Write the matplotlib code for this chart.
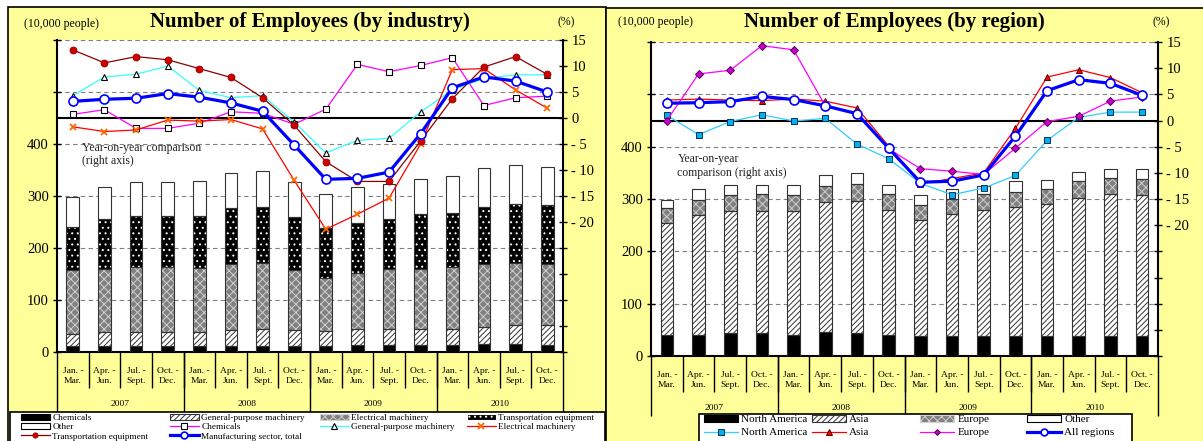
import numpy as np
import matplotlib
matplotlib.use('Agg')
import matplotlib.pyplot as plt
from matplotlib.patches import Rectangle, Patch
from matplotlib.lines import Line2D

plt.rcParams['font.family'] = ['Liberation Serif', 'DejaVu Serif']
plt.rcParams['hatch.linewidth'] = 0.7

W, H = 1203, 441


def fx(x):
    return x / W


def fy(y):
    return 1 - y / H


quarters = ['Jan. -\nMar.', 'Apr. -\nJun.', 'Jul. -\nSept.', 'Oct. -\nDec.'] * 4
years = ['2007', '2008', '2009', '2010']

# by industry, employees (10,000 people)
ind_chem = [11, 11, 11, 11, 11, 11, 11, 11, 11, 13, 13, 13, 13, 15, 15, 13]
ind_gen = [24, 28, 28, 28, 28, 31, 34, 31, 30, 31, 31, 31, 32, 33, 36, 38]
ind_elec = [122, 121, 125, 125, 123, 128, 126, 115, 102, 108, 116, 116, 119, 122, 120, 119]
ind_trans = [84, 96, 98, 98, 100, 106, 107, 102, 96, 97, 96, 105, 104, 108, 114, 113]
ind_other = [58, 62, 64, 64, 66, 69, 70, 68, 65, 69, 67, 67, 70, 75, 74, 73]

# by industry, year-on-year (%)
yoy_chem = [0.7, 1.6, -2.0, -2.0, -1.0, 1.2, 0.9, -1.2, 1.7, 10.3, 8.9, 10.1, 11.6, 2.4, 3.9, 4.2]
yoy_gen = [4.3, 7.9, 8.4, 10.0, 5.3, 3.9, 4.3, -0.8, -6.7, -4.3, -3.9, 1.2, 5.4, 7.6, 8.3, 8.3]
yoy_elec = [-1.7, -2.6, -2.3, -0.4, -0.6, -0.3, -2.1, -12.0, -21.4, -18.5, -15.4, -5.0, 9.3, 9.5, 5.4, 1.9]
yoy_trans = [13.1, 10.6, 11.8, 11.2, 9.5, 7.8, 3.9, -1.4, -8.4, -12.2, -12.2, -4.4, 3.7, 9.8, 11.8, 8.4]
yoy_mfg = [3.2, 3.6, 3.8, 4.7, 4.0, 2.9, 1.3, -5.2, -11.8, -11.6, -10.4, -3.0, 5.8, 7.9, 7.1, 5.0]

# by region, employees (10,000 people)
reg_na = [41, 41, 43, 43, 41, 45, 43, 41, 39, 39, 39, 39, 39, 39, 39, 39]
reg_asia = [214, 229, 234, 234, 236, 249, 254, 238, 220, 232, 240, 245, 251, 263, 270, 268]
reg_eu = [27, 28, 30, 32, 30, 31, 32, 30, 30, 29, 30, 29, 29, 32, 31, 31]
reg_other = [16, 21, 20, 18, 20, 21, 21, 18, 18, 19, 16, 21, 18, 17, 18, 20]

# by region, year-on-year (%)
yoy_na = [1.0, -2.7, -0.2, 1.1, -0.1, 0.4, -4.5, -7.3, -12.0, -14.2, -12.9, -10.5, -3.8, 0.6, 1.6, 1.6]
yoy_asia = [3.9, 4.1, 3.9, 3.8, 4.1, 3.7, 2.4, -4.9, -12.1, -11.1, -10.0, -1.5, 8.3, 9.7, 8.2, 5.3]
yoy_eu = [0.0, 8.9, 9.6, 14.3, 13.5, 2.8, 1.3, -5.4, -9.2, -9.7, -10.3, -5.3, -0.2, 0.8, 3.7, 4.5]
yoy_all = [3.3, 3.4, 3.6, 4.6, 4.0, 2.8, 1.3, -5.3, -11.8, -11.6, -10.4, -3.0, 5.7, 7.8, 7.1, 4.8]

YELLOW = '#FFFF99'
# (face, hatch colour, hatch)
S_BLACK = ('black', 'black', None)
S_DIAG = ('white', '#333333', '//////')
S_GREY = ('#808080', '#d0d0d0', 'xxxx')
S_CHECK = ('black', 'white', '...')
S_WHITE = ('white', 'white', None)


def stack(ax, series, styles):
    x = np.arange(len(series[0]))
    bottom = np.zeros(len(x))
    for vals, (fc, hc, hatch) in zip(series, styles):
        ax.bar(x, vals, 0.4, bottom=bottom, color=fc, edgecolor=hc, hatch=hatch,
               linewidth=0, zorder=2)
        ax.bar(x, vals, 0.4, bottom=bottom, facecolor='none', edgecolor='#333333',
               linewidth=0.8, zorder=3)
        bottom += np.array(vals)


def right_label(v):
    if v < -20:
        return ''
    if v < 0:
        return '- %d' % (-v)
    return '%d' % v


def frame(ax, axr):
    ax.set_facecolor('white')
    ax.set_xlim(-0.5, 15.5)
    ax.set_ylim(0, 600)
    axr.set_ylim(-45, 15)
    ax.set_yticks(range(0, 601, 100))
    ax.set_yticklabels(['0', '100', '200', '300', '400', '', ''])
    ax.set_xticks([])
    ax.yaxis.grid(True, color='#808080', linestyle=(0, (4, 3)), linewidth=0.8)
    ax.set_axisbelow(True)
    axr.set_yticks(range(-45, 16, 5))
    axr.set_yticklabels([right_label(v) for v in range(-45, 16, 5)])
    axr.axhline(0, color='black', linewidth=1.5, zorder=1)
    for s in ['top', 'right']:
        ax.spines[s].set_visible(False)
    for s in ['top', 'left', 'bottom']:
        axr.spines[s].set_visible(False)
    ax.spines['left'].set_linewidth(1.5)
    ax.spines['bottom'].set_linewidth(1.5)
    axr.spines['right'].set_linewidth(1.5)
    ax.tick_params(axis='y', direction='inout', length=6, width=1, labelsize=10.5, pad=3)
    axr.tick_params(axis='y', direction='inout', length=6, width=1, labelsize=10.5, pad=3)

    # two level category axis
    tr = ax.get_xaxis_transform()
    for i, q in enumerate(quarters):
        ax.text(i, -0.077, q, transform=tr, ha='center', va='center', fontsize=6.8,
                linespacing=1.25)
    for k, yr in enumerate(years):
        ax.text(4 * k + 1.5, -0.167, yr, transform=tr, ha='center', va='center', fontsize=6.8)
    ax.vlines(np.arange(0.5, 15, 1), -0.115, 0, transform=tr, clip_on=False,
              color='black', linewidth=1)
    ax.vlines([-0.5, 3.5, 7.5, 11.5, 15.5], -0.192, 0, transform=tr, clip_on=False,
              color='black', linewidth=1)


fig = plt.figure(figsize=(W / 100, H / 100), dpi=100)
fig.patch.set_facecolor('white')

for x0, x1, y0 in [(8, 606, 7), (606, 1215, 8)]:
    fig.add_artist(Rectangle((fx(x0), fy(450)), fx(x1) - fx(x0), fy(y0) - fy(450),
                             transform=fig.transFigure, facecolor=YELLOW,
                             edgecolor='black', linewidth=1.2, zorder=-10))

x = np.arange(16)

# ---- left: by industry
ax1 = fig.add_axes([fx(57), fy(352), fx(563) - fx(57), fy(40) - fy(352)])
ax1r = ax1.twinx()
frame(ax1, ax1r)
stack(ax1, [ind_chem, ind_gen, ind_elec, ind_trans, ind_other],
      [S_BLACK, S_DIAG, S_GREY, S_CHECK, S_WHITE])

st_chem = dict(color='#FF00FF', lw=0.9, marker='s', ms=5, mfc='white', mec='black', mew=0.8)
st_gen = dict(color='#33FFFF', lw=0.9, marker='^', ms=5, mfc='white', mec='black', mew=0.8)
st_elec = dict(color='#FF0000', lw=0.9, marker='x', ms=5, mec='#FF6600', mew=1.3)
st_trans = dict(color='#8B0000', lw=0.9, marker='o', ms=5, mfc='#CC0000', mec='#990000', mew=0.6)
st_mfg = dict(color='#0000FF', lw=2.3, marker='o', ms=6.5, mfc='white', mec='#0000FF', mew=1.2)

ax1r.plot(x, yoy_chem, zorder=4, **st_chem)
ax1r.plot(x, yoy_gen, zorder=4, **st_gen)
ax1r.plot(x, yoy_elec, zorder=4, **st_elec)
ax1r.plot(x, yoy_trans, zorder=4, **st_trans)
ax1r.plot(x, yoy_mfg, zorder=5, **st_mfg)
ax1r.text(0.049, -7.0, 'Year-on-year comparison\n(right axis)', transform=ax1r.get_yaxis_transform(),
          fontsize=8.5, va='center', ha='left', linespacing=1.2, color='#222222')

fig.text(fx(310), fy(22), 'Number of Employees (by industry)', ha='center', va='center',
         fontsize=15, fontweight='bold')
fig.text(fx(24), fy(24), '(10,000 people)', ha='left', va='center', fontsize=8.5)
fig.text(fx(566), fy(22), '(%)', ha='center', va='center', fontsize=8.5)

# ---- right: by region
ax2 = fig.add_axes([fx(651), fy(356), fx(1158) - fx(651), fy(42) - fy(356)])
ax2r = ax2.twinx()
frame(ax2, ax2r)
stack(ax2, [reg_na, reg_asia, reg_eu, reg_other], [S_BLACK, S_DIAG, S_GREY, S_WHITE])

st_na = dict(color='#33CCFF', lw=0.9, marker='s', ms=5, mfc='#00B0F0', mec='#003355', mew=0.7)
st_asia = dict(color='#FF0000', lw=0.9, marker='^', ms=5, mfc='#FF0000', mec='#550000', mew=0.7)
st_eu = dict(color='#FF00FF', lw=0.9, marker='D', ms=4, mfc='#CC00CC', mec='#550055', mew=0.7)
st_all = dict(color='#0000FF', lw=2.3, marker='o', ms=6.5, mfc='white', mec='#0000FF', mew=1.2)

ax2r.plot(x, yoy_na, zorder=4, **st_na)
ax2r.plot(x, yoy_asia, zorder=4, **st_asia)
ax2r.plot(x, yoy_eu, zorder=4, **st_eu)
ax2r.plot(x, yoy_all, zorder=5, **st_all)
ax2r.text(0.052, -8.7, 'Year-on-year\ncomparison (right axis)', transform=ax2r.get_yaxis_transform(),
          fontsize=8.5, va='center', ha='left', linespacing=1.2, color='#222222')

fig.text(fx(894), fy(22), 'Number of Employees (by region)', ha='center', va='center',
         fontsize=15, fontweight='bold')
fig.text(fx(618), fy(22), '(10,000 people)', ha='left', va='center', fontsize=8.5)
fig.text(fx(1161), fy(22), '(%)', ha='center', va='center', fontsize=8.5)


# ---- legends (one legend per column so the columns line up like the original)
def patch(style):
    fc, hc, hatch = style
    return Patch(facecolor=fc, edgecolor=hc if hatch else 'black', hatch=hatch, linewidth=0.8)


def line(style):
    return Line2D([], [], **style)


def column(handles, labels, x0, ytop, size, spacing):
    fig.legend(handles, labels, loc='upper left', bbox_to_anchor=(fx(x0), fy(ytop)),
               frameon=False, fontsize=size, handlelength=3.1, handleheight=0.55,
               handletextpad=0.25, labelspacing=spacing, borderpad=0, borderaxespad=0,
               markerscale=0.75)


fig.add_artist(Rectangle((fx(10), fy(450)), fx(605) - fx(10), fy(412) - fy(450),
                         transform=fig.transFigure, facecolor='white', edgecolor='black',
                         linewidth=1.2, zorder=1))
column([patch(S_BLACK), patch(S_WHITE), line(st_trans)],
       ['Chemicals', 'Other', 'Transportation equipment'], 21, 414, 6.7, 0.12)
column([patch(S_DIAG), line(st_chem), line(st_mfg)],
       ['General-purpose machinery', 'Chemicals', 'Manufacturing sector, total'], 170, 414, 6.7, 0.12)
column([patch(S_GREY), line(st_gen)],
       ['Electrical machinery', 'General-purpose machinery'], 320, 414, 6.7, 0.12)
column([patch(S_CHECK), line(st_elec)],
       ['Transportation equipment', 'Electrical machinery'], 467, 414, 6.7, 0.12)

fig.add_artist(Rectangle((fx(699), fy(450)), fx(1132) - fx(699), fy(414) - fy(450),
                         transform=fig.transFigure, facecolor='white', edgecolor='black',
                         linewidth=1.2, zorder=1))
column([patch(S_BLACK), line(st_na)], ['North America', 'North America'], 704, 415, 8, 0.35)
column([patch(S_DIAG), line(st_asia)], ['Asia', 'Asia'], 812, 415, 8, 0.35)
column([patch(S_GREY), line(st_eu)], ['Europe', 'Europe'], 920, 415, 8, 0.35)
column([patch(S_WHITE), line(st_all)], ['Other', 'All regions'], 1027, 415, 8, 0.35)

fig.savefig('out.png', dpi=100)
